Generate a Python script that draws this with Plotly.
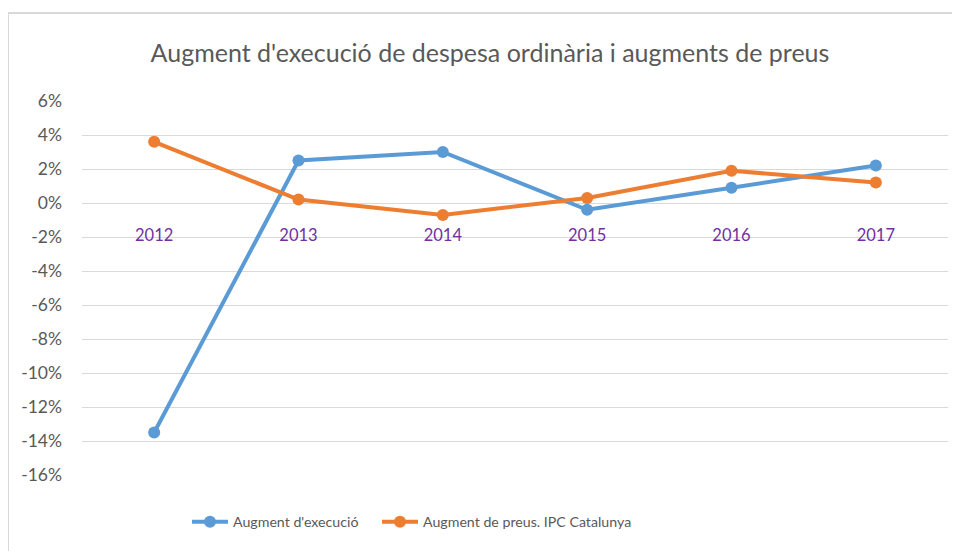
import plotly.graph_objects as go

years = ["2012", "2013", "2014", "2015", "2016", "2017"]
execucio = [-13.5, 2.5, 3.0, -0.4, 0.9, 2.2]
ipc = [3.6, 0.2, -0.7, 0.3, 1.9, 1.2]
y_ticks = [6, 4, 2, 0, -2, -4, -6, -8, -10, -12, -14, -16]
y_labels = [f"{v}%" for v in y_ticks]

FONT = "Lato"
W, H = 960, 551
L, R, T, B = 74, 20, 93, 84
pw = W - L - R
ph = H - T - B

fig = go.Figure()
fig.add_trace(go.Scatter(
    x=years, y=execucio, name="Augment d'execució", mode="lines+markers",
    line=dict(color="#5B9BD5", width=4), marker=dict(size=12, color="#5B9BD5"),
    legend="legend"))
fig.add_trace(go.Scatter(
    x=years, y=ipc, name="Augment de preus. IPC Catalunya", mode="lines+markers",
    line=dict(color="#ED7D31", width=4), marker=dict(size=12, color="#ED7D31"),
    legend="legend2"))

y0_frac = (0 - (-16)) / (6 - (-16))
leg_y = (467 - 514) / ph
leg_font = dict(family=FONT, size=14.2, color="#595959")

fig.update_layout(
    width=W, height=H,
    margin=dict(l=L, r=R, t=T, b=B),
    paper_bgcolor="white", plot_bgcolor="white",
    font=dict(family=FONT, color="#595959"),
    title=dict(text="Augment d'execució de despesa ordinària i augments de preus",
               x=482 / W, xref="container", xanchor="center",
               y=1 - 45 / H, yref="container", yanchor="middle",
               font=dict(family=FONT, size=25, color="#595959")),
    xaxis=dict(type="category", range=[-0.5, 5.5], anchor="free", position=y0_frac,
               showgrid=False, showline=False, zeroline=False, ticks="",
               ticklabelstandoff=20,
               tickfont=dict(family=FONT, size=16.5, color="#7030A0")),
    yaxis=dict(range=[-16, 6], tickvals=y_ticks, ticktext=y_labels,
               showgrid=True, gridcolor="#D9D9D9", gridwidth=1,
               zeroline=True, zerolinecolor="#D9D9D9", zerolinewidth=1,
               showline=False, ticks="", ticklabelstandoff=19,
               tickfont=dict(family=FONT, size=17.5, color="#595959")),
    legend=dict(orientation="h", x=(179 - L) / pw, xanchor="left",
                y=leg_y, yanchor="middle", font=leg_font, itemwidth=36),
    legend2=dict(orientation="h", x=(369 - L) / pw, xanchor="left",
                 y=leg_y, yanchor="middle", font=leg_font, itemwidth=36),
    showlegend=True,
)

# chart border
fig.add_shape(type="rect", xref="paper", yref="paper",
              x0=(0 - L) / pw, x1=(1000 - L) / pw,
              y0=(467 - 600) / ph, y1=(467 - 5) / ph,
              line=dict(color="#D9D9D9", width=2), fillcolor="rgba(0,0,0,0)",
              layer="below")

fig.write_html("out.html")
